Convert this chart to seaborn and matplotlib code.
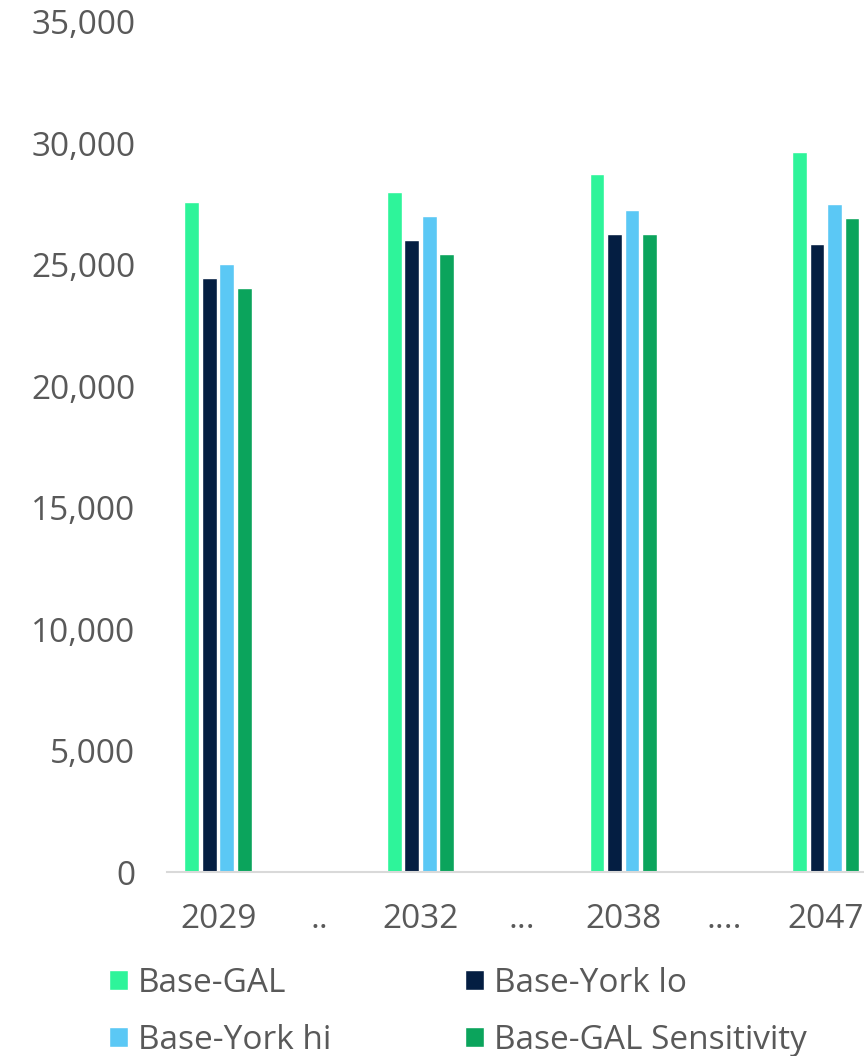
import pandas as pd
import seaborn as sns
import matplotlib.pyplot as plt
from matplotlib.ticker import FuncFormatter

# categories (dot labels are empty spacer columns)
categories = ["2029", "..", "2032", "...", "2038", "....", "2047"]
years = ["2029", "2032", "2038", "2047"]
series = ["Base-GAL", "Base-York lo", "Base-York hi", "Base-GAL Sensitivity"]

base_gal = [27570, 27980, 28720, 29630]
york_lo = [24440, 26010, 26250, 25840]
york_hi = [25020, 27000, 27240, 27490]
gal_sens = [24030, 25430, 26250, 26910]

colors = ["#2EF49A", "#041E42", "#5BC8F5", "#0BA45C"]
text_col = "#595959"

rows = []
for name, vals in zip(series, [base_gal, york_lo, york_hi, gal_sens]):
    for yr, v in zip(years, vals):
        rows.append({"year": yr, "series": name, "value": v})
df = pd.DataFrame(rows)

sns.set_style("white")
plt.rcParams["font.family"] = ["Open Sans", "DejaVu Sans"]

fig = plt.figure(figsize=(8.64, 10.56), dpi=100)
ax = fig.add_axes([0.1938, 0.1742, 0.8206, 0.8054])

sns.barplot(data=df, x="year", y="value", hue="series", order=categories,
            hue_order=series, palette=colors, width=0.69, gap=0.15,
            saturation=1, errorbar=None, ax=ax, legend=True)

ax.set_xlim(-0.5, 6.5)
ax.set_ylim(0, 35000)
ax.set_yticks(range(0, 35001, 5000))
ax.yaxis.set_major_formatter(FuncFormatter(lambda v, p: f"{int(v):,}"))
ax.set_xlabel("")
ax.set_ylabel("")
for s in ["top", "right", "left"]:
    ax.spines[s].set_visible(False)
ax.spines["bottom"].set_color("#D9D9D9")
ax.spines["bottom"].set_linewidth(1.5)
ax.tick_params(axis="y", length=0, pad=23, labelsize=24, labelcolor=text_col)
ax.tick_params(axis="x", length=0, pad=22, labelsize=24, labelcolor=text_col)

handles, labels = ax.get_legend_handles_labels()
ax.get_legend().remove()
idx = [0, 2, 1, 3]
fig.legend([handles[i] for i in idx], [labels[i] for i in idx],
           ncol=2, loc="upper left", bbox_to_anchor=(0.126, 0.0845),
           frameon=False, fontsize=24, labelcolor=text_col,
           handlelength=0.58, handleheight=0.58, handletextpad=0.3,
           columnspacing=4.0, labelspacing=0.72, borderpad=0,
           borderaxespad=0)

fig.savefig("out.png", dpi=100)
